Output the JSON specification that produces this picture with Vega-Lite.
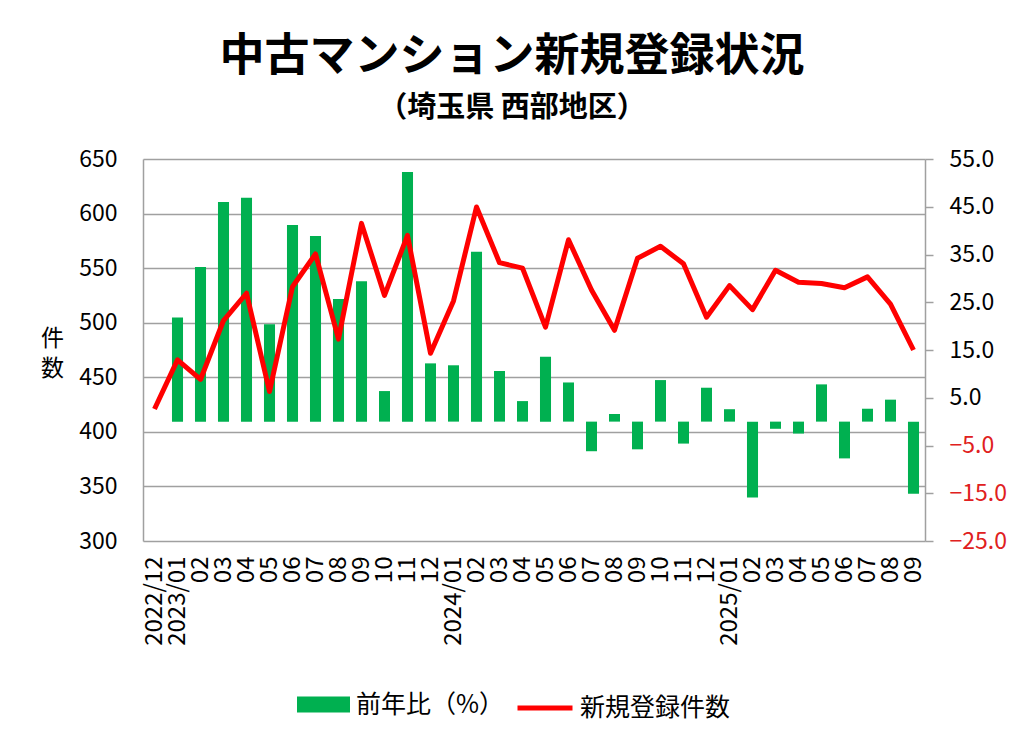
{
  "$schema": "https://vega.github.io/schema/vega-lite/v6.json",
  "width": 782,
  "height": 382,
  "autosize": {"type": "none"},
  "padding": {"left": 143, "top": 159, "right": 99, "bottom": 192},
  "background": "white",
  "title": {
    "text": "中古マンション新規登録状況",
    "subtitle": "（埼玉県 西部地区）",
    "anchor": "middle",
    "dx": -22,
    "font": "Noto Sans CJK JP",
    "fontSize": 45,
    "fontWeight": "bold",
    "color": "black",
    "subtitleFont": "Noto Sans CJK JP",
    "subtitleFontSize": 29,
    "subtitleFontWeight": "bold",
    "subtitleColor": "black",
    "subtitlePadding": 14,
    "offset": 25
  },
  "data": {
    "values": [
      {"month": "2022/12", "count": 421, "yoy": null},
      {"month": "2023/01", "count": 466, "yoy": 21.8},
      {"month": "2023/02", "count": 448, "yoy": 32.4},
      {"month": "2023/03", "count": 502, "yoy": 46.0},
      {"month": "2023/04", "count": 527, "yoy": 46.9},
      {"month": "2023/05", "count": 437, "yoy": 20.4},
      {"month": "2023/06", "count": 533, "yoy": 41.2},
      {"month": "2023/07", "count": 563, "yoy": 38.9},
      {"month": "2023/08", "count": 485, "yoy": 25.7},
      {"month": "2023/09", "count": 591, "yoy": 29.4},
      {"month": "2023/10", "count": 525, "yoy": 6.4},
      {"month": "2023/11", "count": 580, "yoy": 52.3},
      {"month": "2023/12", "count": 472, "yoy": 12.2},
      {"month": "2024/01", "count": 520, "yoy": 11.8},
      {"month": "2024/02", "count": 606, "yoy": 35.6},
      {"month": "2024/03", "count": 555, "yoy": 10.6},
      {"month": "2024/04", "count": 550, "yoy": 4.3},
      {"month": "2024/05", "count": 496, "yoy": 13.6},
      {"month": "2024/06", "count": 576, "yoy": 8.2},
      {"month": "2024/07", "count": 530, "yoy": -6.2},
      {"month": "2024/08", "count": 493, "yoy": 1.6},
      {"month": "2024/09", "count": 559, "yoy": -5.8},
      {"month": "2024/10", "count": 570, "yoy": 8.7},
      {"month": "2024/11", "count": 554, "yoy": -4.6},
      {"month": "2024/12", "count": 505, "yoy": 7.1},
      {"month": "2025/01", "count": 534, "yoy": 2.6},
      {"month": "2025/02", "count": 512, "yoy": -15.9},
      {"month": "2025/03", "count": 548, "yoy": -1.5},
      {"month": "2025/04", "count": 537, "yoy": -2.5},
      {"month": "2025/05", "count": 536, "yoy": 7.8},
      {"month": "2025/06", "count": 532, "yoy": -7.7},
      {"month": "2025/07", "count": 542, "yoy": 2.7},
      {"month": "2025/08", "count": 517, "yoy": 4.6},
      {"month": "2025/09", "count": 475, "yoy": -15.1}
    ]
  },
  "encoding": {
    "x": {
      "field": "month",
      "type": "ordinal",
      "sort": "ascending",
      "title": null,
      "scale": {"paddingInner": 0, "paddingOuter": 0},
      "axis": {
        "labelAngle": -90,
        "labelExpr": "indexof(['2022/12','2023/01','2024/01','2025/01'], datum.value) >= 0 ? datum.value : slice(datum.value, 5)",
        "labelFontSize": 24,
        "labelColor": "black",
        "labelPadding": 15,
        "labelOverlap": false,
        "ticks": false,
        "domain": false,
        "grid": false
      }
    }
  },
  "layer": [
    {
      "mark": {"type": "bar", "width": {"band": 0.48}},
      "encoding": {
        "y": {
          "field": "yoy",
          "type": "quantitative",
          "scale": {"domain": [-25, 55], "nice": false, "zero": false},
          "axis": {
            "orient": "right",
            "title": null,
            "values": [-25, -15, -5, 5, 15, 25, 35, 45, 55],
            "format": ".1f",
            "grid": false,
            "ticks": true,
            "tickSize": 8,
            "tickColor": "#a0a0a0",
            "tickWidth": 1.5,
            "domainColor": "#a0a0a0",
            "domainWidth": 1.5,
            "labelFontSize": 23,
            "labelPadding": 16,
            "labelColor": {"expr": "datum.value < 0 ? '#e02020' : 'black'"}
          }
        },
        "fill": {
          "datum": "前年比（%）",
          "scale": {"range": ["#00b050"]},
          "legend": {
            "orient": "none",
            "legendX": 154,
            "legendY": 519,
            "title": null,
            "padding": 0,
            "symbolType": "M-1,-0.3H1V0.3H-1Z",
            "symbolSize": 2809,
            "symbolOpacity": 1,
            "symbolStrokeWidth": 0,
            "labelFontSize": 25,
            "labelColor": "black",
            "labelOffset": 6
          }
        }
      }
    },
    {
      "mark": {"type": "line", "strokeWidth": 5, "strokeJoin": "round"},
      "encoding": {
        "y": {
          "field": "count",
          "type": "quantitative",
          "scale": {"domain": [300, 650], "nice": false, "zero": false},
          "axis": {
            "orient": "left",
            "values": [300, 350, 400, 450, 500, 550, 600, 650],
            "grid": true,
            "gridColor": "#a0a0a0",
            "gridWidth": 1.5,
            "ticks": false,
            "domainColor": "#a0a0a0",
            "domainWidth": 1.5,
            "labelFontSize": 23,
            "labelColor": "black",
            "labelPadding": 26,
            "title": ["件", "数"],
            "titleAngle": 0,
            "titleX": -91,
            "titleY": 179,
            "titleAlign": "center",
            "titleBaseline": "middle",
            "titleFontSize": 23,
            "titleFontWeight": "normal",
            "titleColor": "black",
            "titleLineHeight": 30
          }
        },
        "stroke": {
          "datum": "新規登録件数",
          "scale": {"range": ["#ff0000"]},
          "legend": {
            "orient": "none",
            "legendX": 372,
            "legendY": 519,
            "title": null,
            "padding": 0,
            "symbolType": "stroke",
            "symbolSize": 3025,
            "symbolStrokeWidth": 5,
            "labelFontSize": 25,
            "labelColor": "black",
            "labelOffset": 5
          }
        }
      }
    }
  ],
  "resolve": {"scale": {"y": "independent"}},
  "config": {
    "font": "Noto Sans CJK JP",
    "view": {"stroke": null}
  }
}
